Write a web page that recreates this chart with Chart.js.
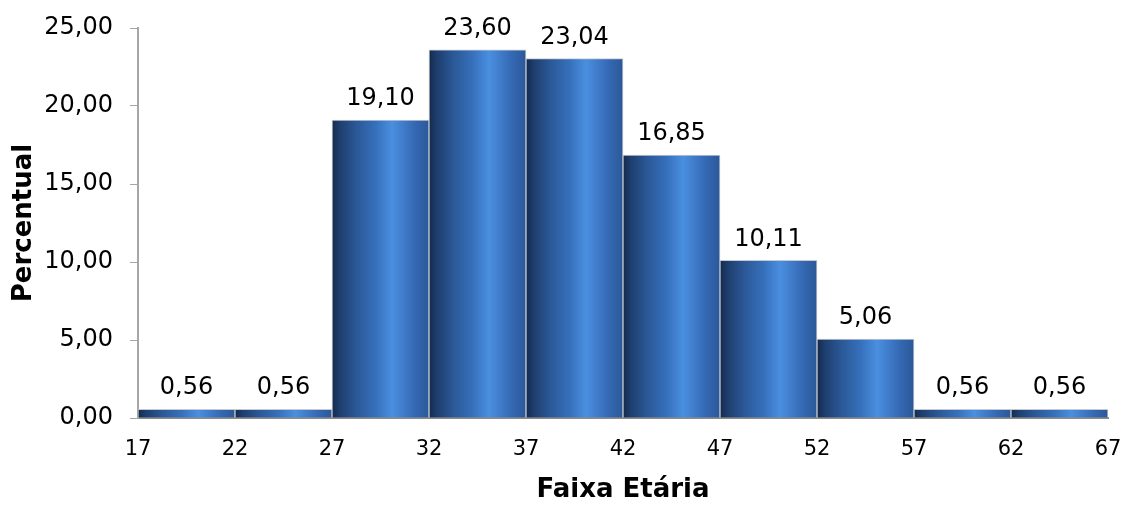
<!DOCTYPE html>
<html>
<head>
<meta charset="utf-8">
<script src="https://cdn.jsdelivr.net/npm/chart.js@4.4.1/dist/chart.umd.min.js"></script>
<style>
  html, body { margin: 0; padding: 0; background: #fff; }
  #wrap { width: 1122px; height: 517px; }
</style>
</head>
<body>
<div id="wrap"><canvas id="hist"></canvas></div>
<script>
// age classes (lower bound of each 5-year bin) and percentage in each
const binStarts = [17, 22, 27, 32, 37, 42, 47, 52, 57, 62];
const percents = [0.56, 0.56, 19.10, 23.60, 23.04, 16.85, 10.11, 5.06, 0.56, 0.56];
const edgeTicks = [17, 22, 27, 32, 37, 42, 47, 52, 57, 62, 67];
const binWidth = 5;

const FONT = "'DejaVu Sans', Verdana, sans-serif";
const fmt = v => v.toFixed(2).replace(".", ",");

const points = binStarts.map((s, i) => ({ x: s + binWidth / 2, y: percents[i] }));

// horizontal shading across each bar, like a rounded column
function barFill(ctx) {
  const chart = ctx.chart;
  const xs = chart.scales.x;
  if (!xs || !ctx.raw) return "#2f63ad";
  const x0 = xs.getPixelForValue(ctx.raw.x - binWidth / 2);
  const x1 = xs.getPixelForValue(ctx.raw.x + binWidth / 2);
  if (!isFinite(x0) || !isFinite(x1)) return "#2f63ad";
  const g = chart.ctx.createLinearGradient(x0, 0, x1, 0);
  g.addColorStop(0, "#152a4c");
  g.addColorStop(0.08, "#1e3e6e");
  g.addColorStop(0.25, "#2b5897");
  g.addColorStop(0.45, "#3670bb");
  g.addColorStop(0.62, "#4a8fe0");
  g.addColorStop(0.85, "#3569b4");
  g.addColorStop(1, "#2b5898");
  return g;
}

const valueLabels = {
  id: "valueLabels",
  afterDatasetsDraw(chart) {
    const c = chart.ctx;
    const meta = chart.getDatasetMeta(0);
    c.save();
    c.font = "24px " + FONT;
    c.fillStyle = "#000";
    c.textAlign = "center";
    c.textBaseline = "bottom";
    meta.data.forEach((bar, i) => {
      c.fillText(fmt(percents[i]), bar.x, bar.y - 9);
    });
    c.restore();
  }
};

new Chart(document.getElementById("hist"), {
  type: "bar",
  data: {
    datasets: [{
      data: points,
      backgroundColor: barFill,
      borderColor: "rgba(190,195,205,0.9)",
      borderWidth: 1,
      borderSkipped: "bottom",
      barPercentage: 1,
      categoryPercentage: 1
    }]
  },
  options: {
    responsive: true,
    maintainAspectRatio: false,
    animation: false,
    layout: { padding: { top: 28, right: 14, left: 9, bottom: 0 } },
    plugins: { legend: { display: false }, tooltip: { enabled: false } },
    scales: {
      x: {
        type: "linear",
        offset: false,
        min: 17,
        max: 67,
        afterBuildTicks: s => { s.ticks = edgeTicks.map(v => ({ value: v })); },
        afterFit: s => { s.height = 99; s.paddingLeft = 0; s.paddingRight = 0; },
        grid: { display: false, drawTicks: false },
        border: { display: true, color: "#8c8c8c", width: 2 },
        ticks: { font: { family: FONT, size: 21 }, color: "#000", padding: 19, autoSkip: false, maxRotation: 0 },
        title: { display: true, text: "Faixa Etária", font: { family: FONT, size: 26, weight: "bold" }, color: "#000", padding: { top: 0, bottom: 11 } }
      },
      y: {
        min: 0,
        max: 25,
        afterFit: s => { s.width = 129; s.paddingTop = 0; s.paddingBottom = 0; },
        ticks: { stepSize: 5, callback: v => fmt(v), font: { family: FONT, size: 24 }, color: "#000", padding: 17 },
        grid: { drawOnChartArea: false, tickLength: 8, color: "#a6a6a6" },
        border: { color: "#a6a6a6", width: 2 },
        title: { display: true, text: "Percentual", font: { family: FONT, size: 26, weight: "bold" }, color: "#000", padding: 0 }
      }
    }
  },
  plugins: [valueLabels]
});
</script>
</body>
</html>
